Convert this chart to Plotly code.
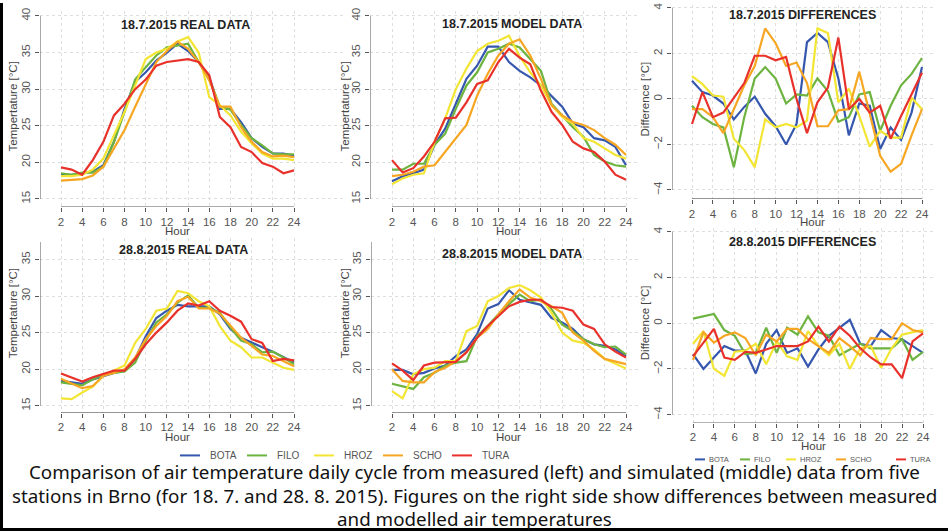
import plotly.graph_objects as go

# hours on the x axis
HOURS = list(range(2, 25))
STATIONS = ["BOTA", "FILO", "HROZ", "SCHO", "TURA"]
COLORS = ["#3557ae", "#6db33f", "#f2e533", "#f6a623", "#e8312b"]

# 18.7.2015 measured
real18_bota = [18.3, 18.3, 18.5, 18.7, 19.6, 22.8, 27.3, 31.0, 32.3, 33.9, 35.0, 36.2, 35.2, 33.7, 31.6, 27.3, 27.3, 25.5, 23.3, 22.1, 21.2, 21.2, 20.9]
real18_filo = [18.5, 18.3, 18.6, 18.6, 19.4, 22.8, 26.9, 31.3, 33.0, 34.6, 35.7, 36.0, 36.2, 33.7, 31.4, 27.6, 27.2, 25.1, 23.3, 22.3, 21.2, 21.1, 21.1]
real18_hroz = [18.1, 18.1, 18.3, 19.0, 20.5, 23.7, 26.9, 30.5, 34.1, 35.0, 35.5, 36.5, 37.1, 35.0, 28.9, 27.8, 26.4, 24.2, 22.6, 21.2, 20.5, 20.5, 20.3]
real18_scho = [17.5, 17.6, 17.7, 18.2, 19.4, 21.9, 24.4, 27.6, 30.7, 33.7, 35.2, 36.5, 35.5, 33.7, 31.2, 27.6, 27.6, 24.8, 22.8, 21.4, 20.8, 20.9, 20.7]
real18_tura = [19.3, 19.0, 18.3, 20.3, 22.8, 26.4, 28.0, 30.0, 31.3, 33.2, 33.7, 33.9, 34.1, 33.7, 31.9, 26.2, 24.8, 22.1, 21.4, 19.9, 19.4, 18.5, 18.9]

# 18.7.2015 model
model18_bota = [17.4, 18.1, 18.5, 19.0, 22.4, 24.6, 28.0, 31.4, 33.2, 35.8, 35.8, 33.7, 32.5, 31.6, 30.5, 29.1, 27.6, 25.3, 24.8, 23.3, 23.0, 22.1, 19.6]
model18_filo = [19.0, 19.0, 19.8, 19.8, 22.4, 23.9, 27.3, 30.5, 32.3, 35.0, 35.5, 36.2, 35.7, 34.1, 32.5, 28.0, 26.4, 24.8, 23.5, 21.0, 20.1, 19.6, 19.4]
model18_hroz = [17.0, 17.8, 18.3, 18.5, 22.8, 26.0, 30.0, 32.8, 35.2, 36.2, 36.6, 37.3, 34.5, 32.3, 30.5, 27.8, 26.2, 25.3, 23.3, 22.8, 21.9, 21.0, 20.5]
model18_scho = [18.1, 18.3, 18.7, 19.4, 19.6, 21.4, 23.3, 25.1, 29.1, 32.1, 34.6, 36.2, 36.8, 34.6, 31.4, 27.8, 26.4, 25.5, 25.1, 24.4, 23.3, 22.4, 21.0]
model18_tura = [20.3, 18.6, 19.2, 20.8, 22.8, 26.0, 26.1, 28.2, 30.7, 31.2, 33.7, 35.5, 34.3, 33.4, 29.8, 26.9, 25.1, 22.8, 21.9, 21.4, 20.1, 18.3, 17.6]

# 18.7.2015 differences
diff18_bota = [0.8, 0.3, 0.15, -0.2, -0.9, -0.35, 0.1, -0.65, -1.2, -2.0, -1.1, 2.5, 2.9, 2.5, 0.9, -1.6, -0.2, -0.3, -2.2, -1.25, -1.8, -0.6, 1.4]
diff18_filo = [-0.3, -0.8, -1.1, -1.25, -3.0, -0.8, 0.9, 1.4, 0.9, -0.2, 0.2, 0.15, 0.9, 0.35, -1.0, -0.8, 0.2, 0.3, -1.4, -0.3, 0.6, 1.1, 1.8]
diff18_hroz = [1.0, 0.65, 0.15, 0.1, -1.75, -2.25, -3.0, -0.9, -1.25, -1.1, -1.25, -0.95, 3.1, 2.9, -0.15, 0.45, -0.75, -2.1, -1.4, -1.7, -1.7, 0.05, -0.45]
diff18_scho = [-0.45, -0.45, -0.8, -1.5, -0.45, 0.6, 1.45, 3.1, 2.45, 1.45, 1.6, 0.7, -1.2, -1.2, -0.5, -0.45, 1.2, -0.65, -2.5, -3.2, -2.85, -1.6, -0.45]
diff18_tura = [-1.1, 0.3, -0.8, -0.6, 0.05, 0.7, 1.9, 1.9, 1.7, 1.85, 0.0, -1.5, -0.15, 0.5, 2.7, -0.45, 0.0, -0.6, -0.3, -1.75, -0.75, 0.2, 1.15]

# 28.8.2015 measured
real28_bota = [18.4, 18.2, 18.0, 18.6, 19.1, 19.5, 19.8, 21.4, 24.5, 27.0, 28.0, 28.8, 28.6, 28.6, 28.6, 27.5, 25.5, 24.3, 23.6, 23.0, 22.4, 21.6, 20.9]
real28_filo = [18.2, 18.0, 17.8, 18.6, 19.3, 19.5, 19.7, 20.9, 23.9, 26.4, 27.5, 29.1, 30.1, 28.4, 28.4, 27.7, 25.7, 23.9, 23.4, 22.3, 22.4, 21.6, 20.7]
real28_hroz = [16.0, 15.9, 16.8, 17.6, 19.1, 19.8, 20.5, 23.6, 25.5, 28.0, 28.3, 30.7, 30.4, 29.3, 28.6, 25.9, 23.9, 23.0, 21.6, 21.6, 20.9, 20.2, 19.9]
real28_scho = [18.7, 18.0, 17.4, 17.7, 19.1, 19.5, 20.0, 21.6, 24.1, 25.9, 27.3, 29.3, 29.9, 28.3, 28.3, 27.6, 25.9, 24.3, 23.2, 22.0, 21.8, 21.1, 20.4]
real28_tura = [19.4, 18.9, 18.3, 18.9, 19.3, 19.8, 19.8, 21.4, 23.4, 25.0, 26.4, 28.0, 29.0, 28.7, 29.3, 28.0, 27.3, 26.5, 24.1, 23.6, 21.1, 21.4, 21.2]

# 28.8.2015 model
model28_bota = [19.9, 19.9, 19.3, 19.5, 20.1, 20.5, 21.8, 22.7, 24.8, 28.3, 28.9, 30.8, 29.5, 29.1, 28.8, 27.0, 26.4, 25.5, 24.1, 23.4, 23.2, 22.7, 21.8]
model28_filo = [18.0, 17.6, 17.3, 18.9, 19.5, 20.5, 20.9, 21.1, 24.5, 25.9, 27.5, 28.9, 30.2, 29.3, 29.5, 28.2, 26.1, 25.2, 24.1, 23.4, 23.0, 23.1, 22.0]
model28_hroz = [17.0, 16.0, 19.3, 20.0, 20.2, 21.1, 21.1, 25.2, 25.9, 29.3, 30.0, 31.1, 31.5, 30.8, 29.8, 27.7, 25.0, 23.9, 23.6, 22.7, 21.4, 20.7, 20.1]
model28_scho = [20.0, 18.4, 18.2, 18.2, 19.6, 20.2, 21.1, 22.3, 24.3, 25.5, 27.5, 29.3, 30.9, 29.8, 29.3, 28.6, 27.7, 25.0, 23.9, 22.5, 21.4, 21.1, 20.7]
model28_tura = [20.8, 19.8, 18.5, 20.5, 20.9, 20.9, 21.0, 22.3, 24.3, 25.9, 27.3, 28.6, 29.2, 29.5, 29.5, 28.5, 28.4, 28.0, 26.1, 25.5, 23.4, 22.4, 21.6]

# 28.8.2015 differences
diff28_bota = [-1.35, -2.0, -1.5, -1.0, -1.2, -1.2, -2.2, -0.9, -0.3, -1.3, -1.1, -1.9, -1.15, -0.55, -0.2, 0.15, -0.9, -1.0, -0.3, -0.65, -0.7, -1.0, -1.3]
diff28_filo = [0.2, 0.3, 0.4, -0.3, -0.55, -1.35, -1.3, -0.2, -1.3, -0.2, -0.5, 0.3, -0.4, -0.55, -1.4, -1.15, -0.9, -1.1, -1.1, -1.1, -0.7, -1.6, -1.25]
diff28_hroz = [-0.9, -0.35, -2.0, -2.3, -1.25, -1.2, -0.9, -1.8, -0.8, -1.45, -1.6, -0.35, -1.0, -1.4, -0.9, -2.0, -1.1, -1.0, -1.95, -1.1, -0.5, -0.4, -0.3]
diff28_scho = [-1.6, -0.4, -0.85, -0.55, -0.4, -0.65, -1.4, -0.5, -0.8, -0.25, -0.25, -0.7, -1.0, -1.3, -0.65, -1.0, -1.4, -0.65, -0.7, -0.7, 0.0, -0.3, -0.4]
diff28_tura = [-1.45, -0.85, -0.25, -1.5, -1.6, -1.25, -1.3, -1.15, -1.0, -1.0, -1.0, -0.8, -0.15, -0.8, -0.15, -0.55, -1.1, -1.5, -1.8, -1.8, -2.4, -0.8, -0.45]

W, H = 948, 531
FONT = "Liberation Sans, Arial, sans-serif"

# panel geometry in pixels: axis x, grid right, top, x-axis line y, px of hour 2 / 24, (value, px) low/high
panels = [
    dict(series=[real18_bota, real18_filo, real18_hroz, real18_scho, real18_tura],
         left=40, right=345, top=8, bottom=205, x2=61, x24=294, vlo=15, vlo_px=197, vhi=40, vhi_px=13,
         ticks=[15, 20, 25, 30, 35, 40], ytop=40, title="18.7.2015 REAL DATA", tpos=(185, 22),
         ytitle="Tempertature [°C]", ypos=(13, 104), hpos=(177, 229)),
    dict(series=[model18_bota, model18_filo, model18_hroz, model18_scho, model18_tura],
         left=370, right=640, top=8, bottom=205, x2=392, x24=626, vlo=15, vlo_px=197, vhi=40, vhi_px=13,
         ticks=[15, 20, 25, 30, 35, 40], ytop=40, title="18.7.2015 MODEL DATA", tpos=(512, 21),
         ytitle="Tempertature [°C]", ypos=(345, 104), hpos=(508, 229)),
    dict(series=[diff18_bota, diff18_filo, diff18_hroz, diff18_scho, diff18_tura],
         left=672, right=935, top=2, bottom=197, x2=692, x24=922, vlo=-4, vlo_px=188, vhi=4, vhi_px=5,
         ticks=[-4, -2, 0, 2, 4], ytop=4, title="18.7.2015 DIFFERENCES", tpos=(802, 12),
         ytitle="Difference [°C]", ypos=(645, 97), hpos=(812, 220)),
    dict(series=[real28_bota, real28_filo, real28_hroz, real28_scho, real28_tura],
         left=40, right=345, top=236, bottom=412, x2=61, x24=294, vlo=15, vlo_px=405, vhi=35, vhi_px=258,
         ticks=[15, 20, 25, 30, 35], ytop=37.4, title="28.8.2015 REAL DATA", tpos=(183, 248),
         ytitle="Tempertature [°C]", ypos=(13, 312), hpos=(177, 436)),
    dict(series=[model28_bota, model28_filo, model28_hroz, model28_scho, model28_tura],
         left=371, right=640, top=236, bottom=412, x2=392, x24=626, vlo=15, vlo_px=405, vhi=35, vhi_px=258,
         ticks=[15, 20, 25, 30, 35], ytop=37.4, title="28.8.2015 MODEL DATA", tpos=(512, 252),
         ytitle="Tempertature [°C]", ypos=(345, 312), hpos=(508, 436)),
    dict(series=[diff28_bota, diff28_filo, diff28_hroz, diff28_scho, diff28_tura],
         left=672, right=935, top=226, bottom=422, x2=693, x24=923, vlo=-4, vlo_px=414, vhi=4, vhi_px=230,
         ticks=[-4, -2, 0, 2, 4], ytop=4, title="28.8.2015 DIFFERENCES", tpos=(802, 240),
         ytitle="Difference [°C]", ypos=(645, 322), hpos=(813, 446)),
]

fig = go.Figure()
shapes = []
annotations = []

for i, p in enumerate(panels):
    sfx = "" if i == 0 else str(i + 1)
    # hour and value scales in px
    sx = (p["x24"] - p["x2"]) / 22.0
    sy = (p["vlo_px"] - p["vhi_px"]) / (p["vhi"] - p["vlo"])
    xlo = 2 - (p["x2"] - p["left"]) / sx
    xhi = 24 + (p["right"] - p["x24"]) / sx
    ylo = p["vlo"] - (p["bottom"] - p["vlo_px"]) / sy
    yhi = p["vhi"] + (p["vhi_px"] - p["top"]) / sy

    for name, col, vals in zip(STATIONS, COLORS, p["series"]):
        fig.add_trace(go.Scatter(x=HOURS, y=vals, mode="lines", name=name, showlegend=False,
                                 line=dict(color=col, width=2.2), xaxis="x" + sfx, yaxis="y" + sfx))

    fig.layout["xaxis" + sfx] = dict(
        domain=[p["left"] / W, p["right"] / W], range=[xlo, xhi], anchor="y" + sfx,
        tickvals=list(range(2, 25, 2)), ticks="outside", ticklen=4, tickcolor="#555",
        tickfont=dict(size=11.5, color="#555", family=FONT), showgrid=True, gridcolor="#dedede",
        griddash="dot", gridwidth=1, zeroline=False, showline=False)
    fig.layout["yaxis" + sfx] = dict(
        domain=[1 - p["bottom"] / H, 1 - p["top"] / H], range=[ylo, yhi], anchor="x" + sfx,
        tickvals=p["ticks"], ticks="outside", ticklen=4, tickcolor="#555", tickangle=-90,
        tickfont=dict(size=11.5, color="#555", family=FONT), showgrid=True, gridcolor="#dedede",
        griddash="dot", gridwidth=1, zeroline=False, showline=False)

    # R style axis lines that stop at the end ticks
    shapes.append(dict(type="line", xref="x" + sfx, yref="y" + sfx, x0=2, x1=24, y0=ylo, y1=ylo,
                       line=dict(color="#555", width=1)))
    shapes.append(dict(type="line", xref="x" + sfx, yref="y" + sfx, x0=xlo, x1=xlo,
                       y0=p["ticks"][0], y1=p["ytop"], line=dict(color="#555", width=1)))

    annotations.append(dict(text="<b>%s</b>" % p["title"], x=p["tpos"][0] / W, y=1 - p["tpos"][1] / H,
                            xref="paper", yref="paper", showarrow=False, xanchor="center", yanchor="middle",
                            font=dict(size=12.5, color="#222", family=FONT)))
    annotations.append(dict(text=p["ytitle"], x=p["ypos"][0] / W, y=1 - p["ypos"][1] / H, textangle=-90,
                            xref="paper", yref="paper", showarrow=False, xanchor="center", yanchor="middle",
                            font=dict(size=11.5, color="#444", family=FONT)))
    annotations.append(dict(text="Hour", x=p["hpos"][0] / W, y=1 - p["hpos"][1] / H,
                            xref="paper", yref="paper", showarrow=False, xanchor="center", yanchor="middle",
                            font=dict(size=11.5, color="#444", family=FONT)))

# two legends under the plots
legend_rows = [
    dict(seg=[180, 247, 314, 383, 452], seglen=20, gap=9, y=455, size=10),
    dict(seg=[695, 740, 786, 836, 896], seglen=10, gap=3, y=459, size=7.5),
]
for row in legend_rows:
    for name, col, sx0 in zip(STATIONS, COLORS, row["seg"]):
        shapes.append(dict(type="line", xref="paper", yref="paper", x0=sx0 / W, x1=(sx0 + row["seglen"]) / W,
                           y0=1 - row["y"] / H, y1=1 - row["y"] / H, line=dict(color=col, width=2)))
        annotations.append(dict(text=name, x=(sx0 + row["seglen"] + row["gap"]) / W, y=1 - row["y"] / H,
                                xref="paper", yref="paper", showarrow=False, xanchor="left", yanchor="middle",
                                borderpad=0, font=dict(size=row["size"], color="#555", family=FONT)))

caption_lines = [
    "Comparison of air temperature daily cycle from measured (left) and simulated (middle) data from five",
    "stations in Brno (for 18. 7. and 28. 8. 2015). Figures on the right side show differences between measured",
    "and modelled air temperatures",
]
for line, cy in zip(caption_lines, [472, 496, 519]):
    annotations.append(dict(text=line, x=474 / W, y=1 - cy / H, xref="paper", yref="paper", showarrow=False,
                            xanchor="center", yanchor="middle", borderpad=0,
                            font=dict(size=18.8, color="#111", family="Noto Sans, sans-serif")))

# black frame bits on the left and bottom edge
shapes.append(dict(type="rect", xref="paper", yref="paper", x0=0, x1=3 / W, y0=0, y1=1,
                   fillcolor="black", line=dict(width=0)))
shapes.append(dict(type="rect", xref="paper", yref="paper", x0=0, x1=1, y0=0, y1=3 / H,
                   fillcolor="black", line=dict(width=0)))

fig.update_layout(width=W, height=H, autosize=False, margin=dict(l=0, r=0, t=0, b=0),
                  paper_bgcolor="white", plot_bgcolor="white", showlegend=False,
                  shapes=shapes, annotations=annotations, font=dict(family=FONT))

# the page body has a default margin, drop it so the figure sits at the window corner
fig.write_html("out.html", config={"displayModeBar": False},
               post_script="document.body.style.margin='0px';")
